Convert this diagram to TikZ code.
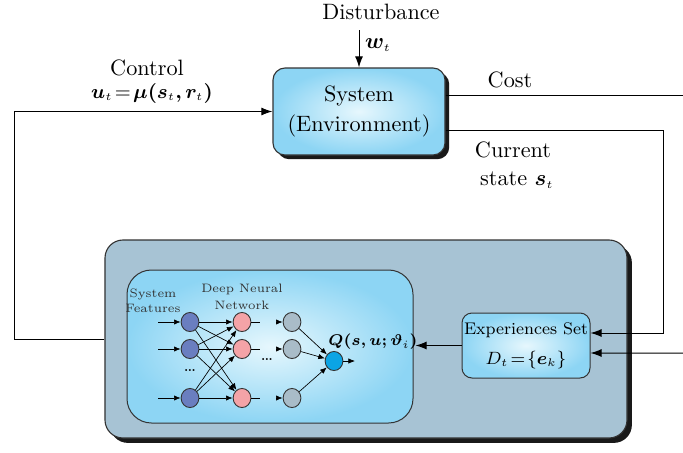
\documentclass[tikz,border=0pt]{standalone}
\usepackage{bm}
\usetikzlibrary{shapes.geometric,arrows.meta,calc,shadows}
\definecolor{skyfill}{HTML}{8DD5F4}
\definecolor{skyin}{HTML}{E6F7FD}
\definecolor{bigfill}{HTML}{A7C3D4}
\definecolor{nblue}{HTML}{6A7EC0}
\definecolor{npink}{HTML}{F4A3A7}
\definecolor{ngray}{HTML}{A9BCC8}
\definecolor{ncyan}{HTML}{0BA4E4}
\definecolor{edgegray}{HTML}{333333}
\newcommand\sst[1]{{\scriptscriptstyle #1}}
\begin{document}
\begin{tikzpicture}[x=0.45pt,y=-0.45pt,
  sysbox/.style={draw=edgegray, line width=0.5pt, rounded corners=5.4pt, inner color=skyin, outer color=skyfill,
    minimum width=77.4pt, minimum height=39.15pt, align=center, font=\fontsize{10}{13.5}\selectfont,
    general shadow={fill=black!90, shadow xshift=1.9pt, shadow yshift=-1.9pt}},
  bigbox/.style={draw=edgegray, line width=0.5pt, rounded corners=8.1pt, fill=bigfill,
    minimum width=234.9pt, minimum height=89.1pt,
    general shadow={fill=black!90, shadow xshift=2.2pt, shadow yshift=-2.2pt}},
  dnnbox/.style={draw=edgegray, line width=0.45pt, rounded corners=11pt, inner color=skyin, outer color=skyfill,
    minimum width=128.7pt, minimum height=68.85pt},
  expbox/.style={draw=edgegray, line width=0.45pt, rounded corners=4.5pt, inner color=skyin, outer color=skyfill,
    minimum width=57.6pt, minimum height=29.25pt},
  lbl/.style={inner sep=0pt, font=\fontsize{10}{12}\selectfont},
  smalllbl/.style={inner sep=0pt, font=\fontsize{7.6}{9}\selectfont},
  tinyl/.style={inner sep=0pt, align=center, text=black!80},
  arr/.style={-{Latex[length=5pt,width=3.6pt]}, line width=0.45pt},
  wire/.style={line width=0.45pt},
  neuron/.style={ellipse, draw=edgegray, line width=0.4pt, inner sep=0pt, minimum width=8pt, minimum height=8.6pt},
  narr/.style={-{Latex[length=3pt,width=2.4pt]}, line width=0.3pt},
  nline/.style={line width=0.3pt}
]
\useasboundingbox (0,0) rectangle (683,452);

% main blocks
\node[bigbox] (big) at (366,339) {};
\node[dnnbox] (dnn) at (270,346.5) {};
\node[expbox] (exp) at (526,345.5) {};
\node[smalllbl] (expt1) at (526,330) {Experiences Set};
\node[smalllbl] (expt2) at (526,360) {$D_{\sst{t}}\!=\!\{\bm{e}_{\sst{k}}\}$};
\node[sysbox] (sys) at (359,111.5) {System\\(Environment)};

% texts
\node[lbl] (dist) at (381,12) {Disturbance};
\node[lbl] (wt) at (378,45) {$\bm{w}_{\sst{t}}$};
\node[lbl] (ctl) at (147,68) {Control};
\node[inner sep=0pt, font=\fontsize{9}{11}\selectfont] (ctlf) at (152,93) {$\bm{u}_{\sst{t}}\!=\!\bm{\mu}\bm{(}\bm{s}_{\sst{t}}\bm{,}\bm{r}_{\sst{t}}\bm{)}$};
\node[lbl] (cost) at (510,80) {Cost};
\node[lbl] (cur) at (513,150) {Current};
\node[lbl] (st) at (517,180) {state $\bm{s}_{\sst{t}}$};

% coordinates
\coordinate (dtop) at (359,30);
\coordinate (costend) at (683,95);
\coordinate (rin) at (683,353);
\coordinate (ein1) at ($(exp.east)+(0,-12.5)$);
\coordinate (ein2) at ($(exp.east)+(0,7.5)$);

% connectors
\draw[arr] (dtop) -- (sys.north);
\draw[arr] (big.west) -- ++(-90,0) |- (sys.west);
\draw[wire] ($(sys.east)+(0,-16.5)$) -- (costend);
\draw[arr] ($(sys.east)+(0,18.5)$) -| ($(ein1)+(73,0)$) -- (ein1);
\draw[arr] (rin) -- (ein2);
\draw[arr] (exp.west) -- ($(exp.west -| dnn.east)+(2,0)$);

% network
\node[tinyl, font=\fontsize{5.5}{6.75}\selectfont] (sf) at (153,300.5) {System\\Features};
\node[tinyl, font=\fontsize{5.5}{7.6}\selectfont] (dn) at (242,296.5) {Deep Neural\\Network};
\foreach \i/\y in {1/322,2/349,3/398} {
  \node[neuron, fill=nblue] (a\i) at (190,\y) {};
  \node[neuron, fill=npink] (b\i) at (242,\y) {};
  \node[neuron, fill=ngray] (c\i) at (292,\y) {};
  \coordinate (ain\i) at (158,\y);
  \coordinate (bout\i) at (260,\y);
  \coordinate (cin\i) at (277,\y);
}
\node[neuron, fill=ncyan] (o) at (334,361) {};
\coordinate (oout) at (355,361);
\foreach \i in {1,2,3} {
  \draw[narr] (ain\i) -- (a\i);
  \draw[nline] (b\i) -- (bout\i);
  \draw[narr] (cin\i) -- (c\i);
  \draw[narr] (c\i) -- (o);
  \foreach \j in {1,2,3} { \draw[narr] (a\i) -- (b\j); }
}
\draw[narr] (o) -- (oout);
\node[inner sep=0pt, font=\fontsize{8}{9}\selectfont] (d1) at (190,371) {\ldots};
\node[inner sep=0pt, font=\fontsize{8}{9}\selectfont] (d2) at (267,360) {\ldots};
\node[inner sep=0pt, font=\fontsize{7.5}{9}\selectfont] (q) at (373,342) {$\bm{Q(s,u;\vartheta}_{\sst{i}}\bm{)}$};
\end{tikzpicture}
\end{document}
